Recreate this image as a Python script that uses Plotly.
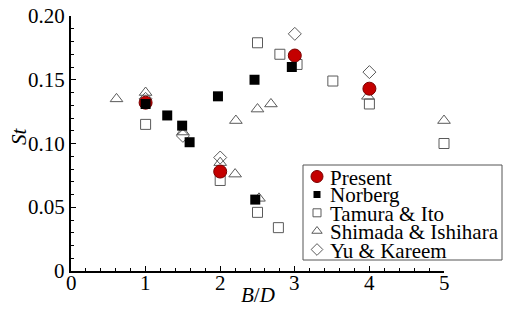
import plotly.graph_objects as go

# ---- data ----
present_x = [1.0, 2.0, 3.0, 4.0]
present_y = [0.132, 0.078, 0.169, 0.143]

norberg_x = [1.0, 1.29, 1.49, 1.59, 1.97, 2.46, 2.47, 2.96]
norberg_y = [0.131, 0.122, 0.114, 0.101, 0.137, 0.150, 0.056, 0.160]

tamura_x = [1.0, 2.0, 2.5, 2.5, 2.8, 2.78, 3.03, 3.51, 4.0, 5.0]
tamura_y = [0.115, 0.071, 0.179, 0.046, 0.170, 0.034, 0.162, 0.149, 0.131, 0.100]

shimada_x = [0.61, 1.0, 1.5, 2.0, 2.2, 2.21, 2.5, 2.52, 2.68, 3.98, 5.0]
shimada_y = [0.135, 0.140, 0.109, 0.085, 0.076, 0.118, 0.127, 0.057, 0.131, 0.137, 0.118]

yu_x = [1.0, 1.5, 2.0, 3.0, 4.0]
yu_y = [0.135, 0.106, 0.089, 0.186, 0.156]

series_names = ["Present", "Norberg", "Tamura & Ito", "Shimada & Ishihara", "Yu & Kareem"]
x_ticks = [0, 1, 2, 3, 4, 5]
x_ticktext = ["0", "1", "2", "3", "4", "5"]
y_ticks = [0, 0.05, 0.10, 0.15, 0.20]
y_ticktext = ["0", "0.05", "0.10", "0.15", "0.20"]

FONT = "Liberation Serif"
GRAY = "#5a5a5a"

styles = {
    "Present": dict(symbol="circle", size=13, color="#c40000", line=dict(color="#7a0000", width=1)),
    "Norberg": dict(symbol="square", size=10, color="black", line=dict(color="black", width=0)),
    "Tamura & Ito": dict(symbol="square-open", size=10, color=GRAY, line=dict(color=GRAY, width=1)),
    "Shimada & Ishihara": dict(symbol="triangle-up-open", size=11, color=GRAY, line=dict(color=GRAY, width=1)),
    "Yu & Kareem": dict(symbol="diamond-open", size=10, color=GRAY, line=dict(color=GRAY, width=1)),
}
legend_styles = {
    "Present": dict(symbol="circle", size=12, color="#c40000", line=dict(color="#7a0000", width=1)),
    "Norberg": dict(symbol="square", size=7, color="black", line=dict(color="black", width=0)),
    "Tamura & Ito": dict(symbol="square-open", size=8, color=GRAY, line=dict(color=GRAY, width=1)),
    "Shimada & Ishihara": dict(symbol="triangle-up-open", size=9, color=GRAY, line=dict(color=GRAY, width=1)),
    "Yu & Kareem": dict(symbol="diamond-open", size=9, color=GRAY, line=dict(color=GRAY, width=1)),
}

data = {
    "Present": (present_x, present_y),
    "Norberg": (norberg_x, norberg_y),
    "Tamura & Ito": (tamura_x, tamura_y),
    "Shimada & Ishihara": (shimada_x, shimada_y),
    "Yu & Kareem": (yu_x, yu_y),
}

fig = go.Figure()
draw_order = ["Tamura & Ito", "Shimada & Ishihara", "Yu & Kareem", "Present", "Norberg"]
for name in draw_order:
    xs, ys = data[name]
    fig.add_trace(go.Scatter(x=xs, y=ys, mode="markers", name=name,
                             marker=styles[name], showlegend=False, cliponaxis=False))

W, H = 532, 314
L, R, T, B = 71, 88, 16, 43
pw, ph = W - L - R, H - T - B
def px_x(p):
    return (p - L) / pw
def px_y(p):
    return (H - B - p) / ph

# custom legend (tighter line spacing than Plotly's built-in legend)
row_px = [176.5, 194.5, 212.8, 231.0, 249.5]
for name, rp in zip(series_names, row_px):
    fig.add_trace(go.Scatter(x=[px_x(317)], y=[px_y(rp)], mode="markers",
                             marker=legend_styles[name], showlegend=False,
                             xaxis="x2", yaxis="y2", cliponaxis=False, hoverinfo="skip"))
    fig.add_annotation(x=px_x(328), y=px_y(rp + 1), xref="paper", yref="paper",
                       text=name, showarrow=False, xanchor="left", yanchor="middle",
                       font=dict(family=FONT, size=21, color="black"))

fig.add_shape(type="rect", xref="paper", yref="paper",
              x0=px_x(303), x1=px_x(502), y0=px_y(260), y1=px_y(165),
              line=dict(color="#555555", width=1), fillcolor="white", layer="below")

# tick labels placed close to the axes, as in the reference
for v, t in zip(x_ticks, x_ticktext):
    fig.add_annotation(x=v, y=px_y(283), xref="x", yref="paper", text=t, showarrow=False,
                       xanchor="center", yanchor="middle",
                       font=dict(family=FONT, size=21, color="black"))
for v, t in zip(y_ticks, y_ticktext):
    fig.add_annotation(x=px_x(67), y=v, xref="paper", yref="y", text=t, showarrow=False,
                       xanchor="right", yanchor="middle",
                       font=dict(family=FONT, size=21, color="black"))

fig.add_annotation(x=px_x(19), y=px_y(136), xref="paper", yref="paper", text="<i>St</i>",
                   textangle=-90, showarrow=False, xanchor="center", yanchor="middle",
                   font=dict(family=FONT, size=21, color="black"))
fig.add_annotation(x=px_x(258), y=px_y(295), xref="paper", yref="paper", text="<i>B</i>/<i>D</i>",
                   showarrow=False, xanchor="center", yanchor="middle",
                   font=dict(family=FONT, size=21, color="black"))

axis_common = dict(showline=True, linecolor="black", linewidth=1.5, ticks="inside",
                   tickcolor="black", tickwidth=1, ticklen=5, showgrid=False, zeroline=False,
                   mirror=False, automargin=False, showticklabels=False)
fig.update_layout(
    width=W, height=H, margin=dict(l=L, r=R, t=T, b=B, autoexpand=False),
    paper_bgcolor="white", plot_bgcolor="white", showlegend=False,
    font=dict(family=FONT),
    xaxis=dict(range=[0, 5], tickvals=x_ticks,
               minor=dict(dtick=0.2, ticks="inside", ticklen=3, tickcolor="black", showgrid=False),
               **axis_common),
    yaxis=dict(range=[0, 0.2], tickvals=y_ticks,
               minor=dict(dtick=0.01, ticks="inside", ticklen=3, tickcolor="black", showgrid=False),
               **axis_common),
    xaxis2=dict(range=[0, 1], overlaying="x", visible=False, fixedrange=True, automargin=False),
    yaxis2=dict(range=[0, 1], overlaying="y", visible=False, fixedrange=True, automargin=False),
)

fig.write_html("out.html", config={"displayModeBar": False},
               post_script="document.body.style.margin='0';")
